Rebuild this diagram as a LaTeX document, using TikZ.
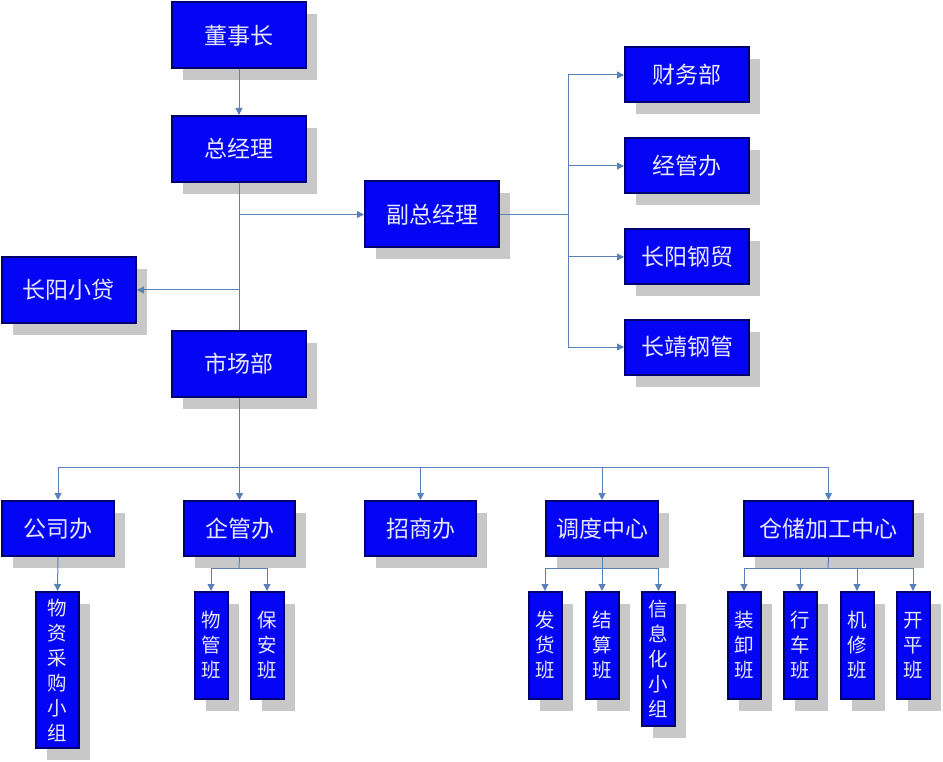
\documentclass[tikz,border=0pt]{standalone}
\usepackage{fontspec}
\newfontfamily\cjk{Noto Sans CJK SC}
\usetikzlibrary{arrows.meta,shadows,calc}
\definecolor{boxblue}{HTML}{0505F5}
\definecolor{boxborder}{HTML}{000070}
\definecolor{boxtext}{HTML}{E6E6FA}
\definecolor{shadowgray}{HTML}{C8C8C8}
\definecolor{linkblue}{HTML}{5A80B8}
\begin{document}
\begin{tikzpicture}[x=1pt,y=-1pt,
  box/.style={draw=boxborder, line width=2pt, fill=boxblue, text=boxtext, inner sep=0pt,
    drop shadow={shadow xshift=11pt, shadow yshift=-12pt, fill=shadowgray, opacity=1, draw=none},
    font=\cjk\fontsize{23}{26}\selectfont},
  bigbox/.style={box, minimum width=134pt, minimum height=66pt},
  rbox/.style={box, minimum width=124pt, minimum height=55pt},
  midbox/.style={box, minimum height=55pt},
  vbox/.style={box, minimum width=33pt, align=center, font=\cjk\fontsize{19.5}{25}\selectfont},
  conn/.style={draw=linkblue, line width=1pt},
  arr/.style={conn, -{Triangle[length=7pt,width=7pt]}}
]
\useasboundingbox (0,0) rectangle (943,762);

% top column
\node[bigbox] (dsz) at (239,35.5) {董事长};
\node[bigbox] (zjl) at (239,149) {总经理};
\node[bigbox] (fzjl) at (432,214.5) {副总经理};
\node[bigbox] (cyxd) at (69,290) {长阳小贷};
\node[bigbox] (scb) at (239,364) {市场部};

% right column
\node[rbox] (cwb) at (687,75) {财务部};
\node[rbox] (jgb) at (687,166) {经管办};
\node[rbox] (cygm) at (687,257) {长阳钢贸};
\node[rbox] (cjgg) at (687,347) {长靖钢管};

% bottom row
\node[midbox, minimum width=112pt] (gsb) at (58,528.5) {公司办};
\node[midbox, minimum width=111pt] (qgb) at (239.5,528.5) {企管办};
\node[midbox, minimum width=111pt] (zsb) at (420.5,528.5) {招商办};
\node[midbox, minimum width=112pt] (ddzx) at (602,528.5) {调度中心};
\node[midbox, minimum width=169pt] (ccjg) at (828.5,528.5) {仓储加工中心};

% small vertical boxes
\node[vbox, minimum width=43pt, minimum height=156pt] (wzcg) at (57.5,670) {物\\资\\采\\购\\小\\组};
\node[vbox, minimum height=107pt] (wgb) at (211,645.5) {物\\管\\班};
\node[vbox, minimum height=107pt] (bab) at (267,645.5) {保\\安\\班};
\node[vbox, minimum height=107pt] (fhb) at (545,645.5) {发\\货\\班};
\node[vbox, minimum height=107pt] (jsb) at (602,645.5) {结\\算\\班};
\node[vbox, minimum height=134pt] (xxh) at (658.5,659) {信\\息\\化\\小\\组};
\node[vbox, minimum height=107pt] (zxb) at (744,645.5) {装\\卸\\班};
\node[vbox, minimum height=107pt] (xcb) at (800,645.5) {行\\车\\班};
\node[vbox, minimum height=107pt] (jxb) at (857,645.5) {机\\修\\班};
\node[vbox, minimum height=107pt] (kpb) at (913,645.5) {开\\平\\班};

% bus coordinates
\coordinate (busR) at (568,214.5);
\coordinate (busB) at (239,467);
\coordinate (busQ) at (239,568);
\coordinate (busD) at (602,568);
\coordinate (busC) at (828,568);

% connectors top
\draw[arr] (dsz.south) -- (zjl.north);
\draw[conn] (zjl.south) -- (scb.north);
\draw[arr] (zjl.south |- fzjl.west) -- (fzjl.west);
\draw[arr] (zjl.south |- cyxd.east) -- (cyxd.east);

% right bus
\draw[conn] (fzjl.east) -- (busR);
\draw[conn] (busR |- cwb.west) -- (busR |- cjgg.west);
\foreach \n in {cwb,jgb,cygm,cjgg} \draw[arr] (busR |- \n.west) -- (\n.west);

% bottom bus
\draw[conn] (scb.south) -- (busB);
\draw[conn] (busB -| gsb.north) -- (busB -| ccjg.north);
\foreach \n in {gsb,qgb,zsb,ddzx,ccjg} \draw[arr] (busB -| \n.north) -- (\n.north);

% sub-branches
\draw[arr] (gsb.south) -- (wzcg.north);

\draw[conn] (qgb.south) -- (busQ);
\draw[conn] (busQ -| wgb.north) -- (busQ -| bab.north);
\foreach \n in {wgb,bab} \draw[arr] (busQ -| \n.north) -- (\n.north);

\draw[conn] (ddzx.south) -- (busD);
\draw[conn] (busD -| fhb.north) -- (busD -| xxh.north);
\foreach \n in {fhb,jsb,xxh} \draw[arr] (busD -| \n.north) -- (\n.north);

\draw[conn] (ccjg.south) -- (busC);
\draw[conn] (busC -| zxb.north) -- (busC -| kpb.north);
\foreach \n in {zxb,xcb,jxb,kpb} \draw[arr] (busC -| \n.north) -- (\n.north);
\end{tikzpicture}
\end{document}
